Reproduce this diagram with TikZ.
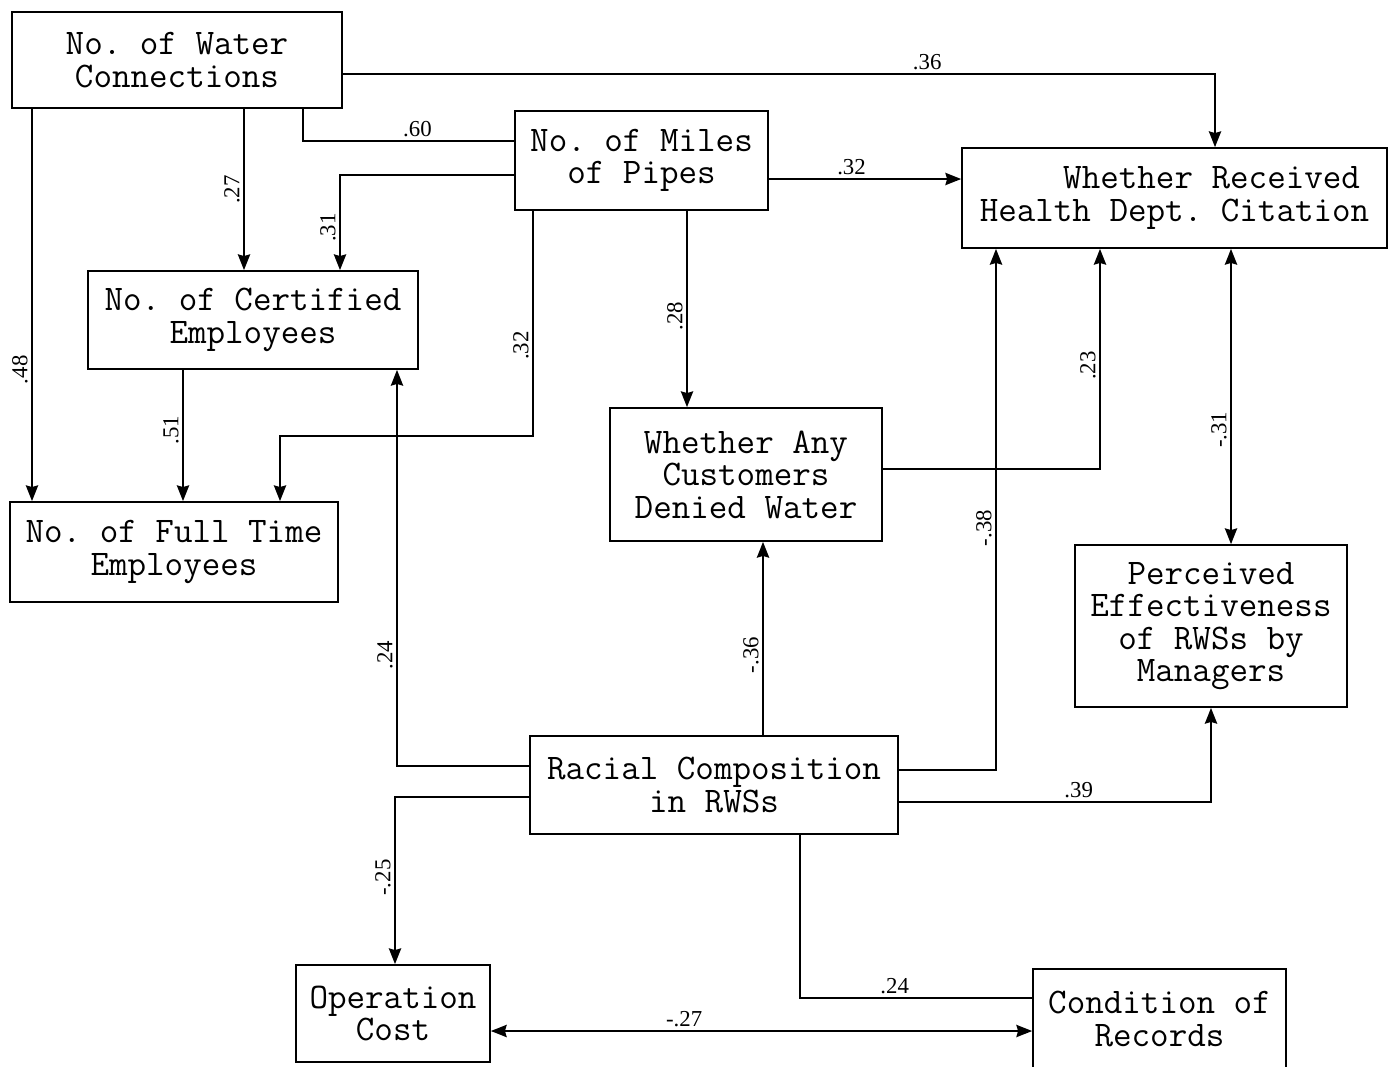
\documentclass[tikz,border=0pt]{standalone}
\usepackage{fontspec}
\setmainfont{Liberation Serif}
\usepackage{tikz}
\usetikzlibrary{arrows.meta}
\frenchspacing
\tikzset{
	var/.style={draw, line width=1pt, inner sep=0pt, align=center, font=\ttfamily\fontsize{20.5}{18.5}\selectfont},
	coef/.style={font=\fontsize{13}{13}\selectfont, inner sep=2pt},
	vcoef/.style={coef, rotate=90, anchor=south},
	path/.style={line width=1pt},
	arr/.style={path, -{Stealth[length=9pt,width=7pt,inset=1pt]}},
	darr/.style={path, {Stealth[length=9pt,width=7pt,inset=1pt]}-{Stealth[length=9pt,width=7pt,inset=1pt]}}
}
\begin{document}
\begin{tikzpicture}[x=0.02cm, y=-0.02cm]
			\useasboundingbox (0,0) rectangle (1392,1066);
			\node[var, minimum width=6.6cm, minimum height=1.92cm] (wc) at (177,60) {No. of Water\\ Connections};
			\node[var, minimum width=5.06cm, minimum height=1.98cm] (mp) at (641.5,160.5) {No. of Miles\\of Pipes};
			\node[var, minimum width=8.5cm, minimum height=2cm] (hd) at (1174.5,198) {\ \ \ \ Whether Received\\Health Dept. Citation};
			\node[var, minimum width=6.6cm, minimum height=1.96cm] (ce) at (253,320) {No. of Certified\\Employees};
			\node[var, minimum width=5.44cm, minimum height=2.66cm] (dw) at (746,474.5) {Whether Any\\Customers\\ Denied Water};
			\node[var, minimum width=6.56cm, minimum height=2cm] (ft) at (174,552) {No. of Full Time\\Employees};
			\node[var, minimum width=5.44cm, minimum height=3.24cm] (pe) at (1211,626) {Perceived\\Effectiveness\\of RWSs by\\Managers};
			\node[var, minimum width=7.36cm, minimum height=1.96cm] (rc) at (714,785) {Racial Composition\\in RWSs};
			\node[var, minimum width=3.88cm, minimum height=1.94cm] (oc) at (393,1013.5) {Operation\\Cost};
			\node[var, minimum width=5.06cm, minimum height=2cm] (cr) at (1159.5,1019) {Condition of\\Records};
			\draw[arr] (wc.east |- 0,74) -| node[coef, pos=0.335, above] {.36} (1215,0 |- hd.north);
			\draw[path] (303,0 |- wc.south) |- node[coef, pos=0.771, above] {.60} (mp.west |- 0,141);
			\draw[arr] (244,0 |- wc.south) -- node[vcoef, pos=0.5] {.27} (244,0 |- ce.north);
			\draw[arr] (32,0 |- wc.south) -- node[vcoef, pos=0.665] {.48} (32,0 |- ft.north);
			\draw[arr] (mp.west |- 0,175) -| node[vcoef, pos=0.776] {.31} (340,0 |- ce.north);
			\draw[arr] (mp.east |- 0,179) -- node[coef, pos=0.43, above] {.32} (hd.west |- 0,179);
			\draw[arr] (687,0 |- mp.south) -- node[vcoef, pos=0.535] {.28} (687,0 |- dw.north);
			\draw[arr] (533,0 |- mp.south) |- node[vcoef, pos=0.299] {.32} (280,436) -- (280,0 |- ft.north);
			\draw[arr] (183,0 |- ce.south) -- node[vcoef, pos=0.46] {.51} (183,0 |- ft.north);
			\draw[arr] (dw.east |- 0,469) -| node[vcoef, pos=0.735] {.23} (1100,0 |- hd.south);
			\draw[darr] (1231,0 |- hd.south) -- node[vcoef, pos=0.613] {-.31} (1231,0 |- pe.north);
			\draw[arr] (rc.west |- 0,766) -| node[vcoef, pos=0.64] {.24} (397,0 |- ce.south);
			\draw[arr] (763,0 |- rc.north) -- node[vcoef, pos=0.415] {-.36} (763,0 |- dw.south);
			\draw[arr] (rc.east |- 0,770) -| node[vcoef, pos=0.732] {-.38} (996,0 |- hd.south);
			\draw[arr] (rc.east |- 0,802) -| node[coef, pos=0.288, above] {.39} (1211,0 |- pe.south);
			\draw[arr] (rc.west |- 0,797) -| node[vcoef, pos=0.741] {-.25} (395,0 |- oc.north);
			\draw[path] (800,0 |- rc.south) |- node[coef, pos=0.704, above] {.24} (cr.west |- 0,998);
			\draw[darr] (oc.east |- 0,1031) -- node[coef, pos=0.357, above] {-.27} (cr.west |- 0,1031);
		\end{tikzpicture}
\end{document}
